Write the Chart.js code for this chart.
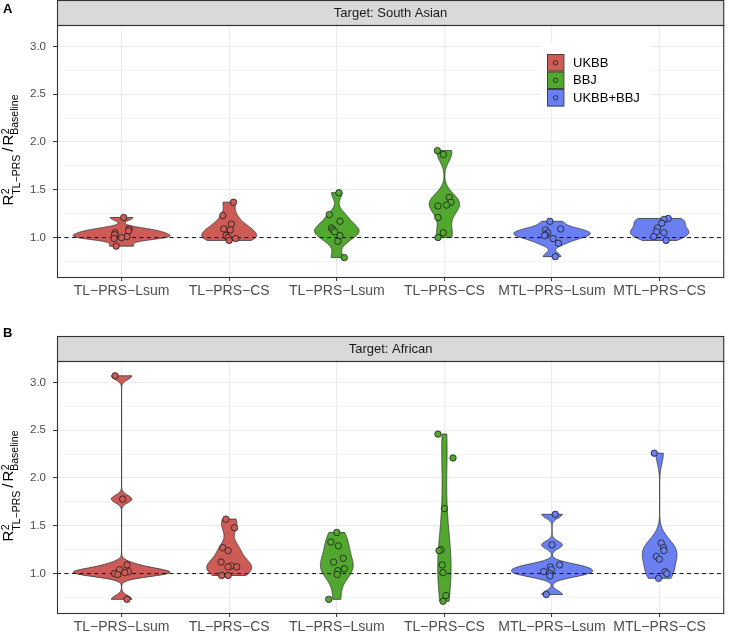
<!DOCTYPE html>
<html>
<head>
<meta charset="utf-8">
<script src="https://cdn.jsdelivr.net/npm/chart.js@4.4.1/dist/chart.umd.min.js"></script>
<style>
  html, body { margin: 0; padding: 0; background: #fff; }
  .panel { position: relative; width: 729px; }
  #panelA { height: 310px; }
  #panelB { height: 322px; }
</style>
</head>
<body>
<div class="panel" id="panelA"><canvas id="chartA"></canvas></div>
<div class="panel" id="panelB"><canvas id="chartB"></canvas></div>
<script>
// categories on the x axis and the training source of each one
const methods = ['TL\u2212PRS\u2212Lsum', 'TL\u2212PRS\u2212CS', 'TL\u2212PRS\u2212Lsum', 'TL\u2212PRS\u2212CS', 'MTL\u2212PRS\u2212Lsum', 'MTL\u2212PRS\u2212CS'];
const groupSource = [0, 0, 1, 1, 2, 2];
const sources = ['UKBB', 'BBJ', 'UKBB+BBJ'];
const panelTitles = ['Target: South Asian', 'Target: African'];
const panelLetters = ['A', 'B'];
const yGrid = [0.75, 1, 1.25, 1.5, 1.75, 2, 2.25, 2.5, 2.75, 3];
const yMin = 0.587, yMax = 3.225;

// R2 ratio per trait, one list per method
const southAsianRatio = [
  [1.21, 1.09, 1.07, 1.05, 1.03, 1.01, 1.00, 0.99, 0.91],
  [1.37, 1.23, 1.14, 1.09, 1.08, 1.02, 1.00, 0.99, 0.97],
  [1.47, 1.24, 1.17, 1.10, 1.08, 1.06, 1.02, 0.96, 0.79],
  [1.91, 1.87, 1.42, 1.37, 1.34, 1.33, 1.21, 1.05, 1.00],
  [1.17, 1.09, 1.08, 1.05, 1.03, 1.02, 0.99, 0.94, 0.80],
  [1.20, 1.19, 1.15, 1.10, 1.06, 1.05, 1.01, 0.97]
];
const southAsianJitter = [
  [0.02, 0.07, 0.065, -0.06, -0.065, 0.05, 0.0, -0.07, -0.05],
  [0.04, -0.06, 0.02, -0.05, 0.01, -0.03, -0.01, 0.06, 0.0],
  [0.02, -0.07, 0.03, -0.05, -0.035, -0.02, 0.03, 0.01, 0.07],
  [-0.065, -0.01, 0.045, 0.06, 0.02, -0.06, -0.06, -0.01, -0.06],
  [-0.02, 0.08, -0.06, -0.04, -0.06, -0.07, 0.01, 0.06, 0.03],
  [0.08, 0.04, 0.02, -0.02, -0.03, 0.04, -0.055, 0.06]
];
const africanRatio = [
  [3.07, 1.78, 1.09, 1.04, 1.02, 1.01, 1.00, 0.99, 0.73],
  [1.57, 1.48, 1.27, 1.24, 1.12, 1.08, 1.07, 1.07, 0.98, 0.98],
  [1.43, 1.33, 1.29, 1.16, 1.12, 1.05, 1.03, 0.99, 0.73],
  [2.46, 2.21, 1.68, 1.25, 1.24, 1.09, 1.01, 0.77, 0.71],
  [1.62, 1.30, 1.09, 1.07, 1.04, 1.02, 1.00, 0.975, 0.78],
  [2.26, 1.32, 1.27, 1.24, 1.18, 1.15, 1.02, 1.00, 0.95]
];
const africanJitter = [
  [-0.06, 0.01, 0.05, -0.02, 0.065, 0.03, -0.065, -0.035, 0.05],
  [-0.03, 0.05, -0.06, -0.01, -0.075, 0.02, -0.01, 0.07, -0.07, -0.01],
  [0.0, -0.055, 0.015, 0.06, -0.03, 0.07, 0.01, 0.003, -0.075],
  [-0.06, 0.08, 0.0, -0.03, -0.05, -0.02, -0.013, 0.015, -0.013],
  [0.03, 0.0, 0.07, -0.015, -0.005, -0.077, -0.02, -0.02, -0.053],
  [-0.05, 0.015, 0.037, 0.04, -0.03, -0.003, 0.05, 0.067, -0.01]
];

const colors = ['#CD5C57', '#52A82F', '#6A80F2'];
const FONT = '"Liberation Sans", Arial, sans-serif';

// bw.nrd0 like R
function bwNrd0(x) {
  var n = x.length;
  var mean = x.reduce(function (a, b) { return a + b; }, 0) / n;
  var sd = Math.sqrt(x.reduce(function (a, b) { return a + (b - mean) * (b - mean); }, 0) / (n - 1));
  var s = x.slice().sort(function (a, b) { return a - b; });
  function q(p) {
    var h = (n - 1) * p, lo = Math.floor(h);
    var hi = Math.min(lo + 1, n - 1);
    return s[lo] + (h - lo) * (s[hi] - s[lo]);
  }
  var lo = Math.min(sd, (q(0.75) - q(0.25)) / 1.34);
  if (!lo) lo = sd || Math.abs(s[0]) || 1;
  return 0.9 * lo * Math.pow(n, -0.2);
}

function density(x) {
  var bw = bwNrd0(x);
  var lo = Math.min.apply(null, x), hi = Math.max.apply(null, x);
  var out = [];
  for (var k = 0; k <= 256; k++) {
    var y = lo + (hi - lo) * k / 256;
    var d = 0;
    for (var j = 0; j < x.length; j++) {
      var z = (y - x[j]) / bw;
      d += Math.exp(-0.5 * z * z);
    }
    out.push({ y: y, d: d / (x.length * bw * Math.sqrt(2 * Math.PI)) });
  }
  return out;
}

const violinPlugin = {
  id: 'violins',
  beforeDatasetsDraw(chart, args, opts) {
    var ctx = chart.ctx, xs = chart.scales.x, ys = chart.scales.y, a = chart.chartArea;
    var dens = opts.groups.map(density);
    var maxD = 0;
    dens.forEach(function (g) { g.forEach(function (p) { if (p.d > maxD) maxD = p.d; }); });
    ctx.save();
    ctx.beginPath();
    ctx.rect(a.left, a.top, a.right - a.left, a.bottom - a.top);
    ctx.clip();
    dens.forEach(function (g, i) {
      ctx.beginPath();
      g.forEach(function (p, k) {
        var px = xs.getPixelForValue(i + 0.45 * p.d / maxD), py = ys.getPixelForValue(p.y);
        if (k === 0) ctx.moveTo(px, py); else ctx.lineTo(px, py);
      });
      for (var k = g.length - 1; k >= 0; k--) {
        ctx.lineTo(xs.getPixelForValue(i - 0.45 * g[k].d / maxD), ys.getPixelForValue(g[k].y));
      }
      ctx.closePath();
      ctx.fillStyle = colors[groupSource[i]];
      ctx.fill();
      ctx.lineWidth = 0.8;
      ctx.strokeStyle = '#333';
      ctx.stroke();
    });
    ctx.restore();
  }
};

function drawYTitle(ctx, area) {
  var big = '15px ' + FONT, small = '10.5px ' + FONT;
  var pieces = [
    { t: 'R', f: big },
    { sup: '2', sub: 'TL\u2212PRS', subDy: 6.5 },
    { gap: 3 },
    { t: '/', f: big },
    { gap: 2 },
    { t: 'R', f: big },
    { sup: '2', sub: 'Baseline', subDy: 4.5 }
  ];
  function width(p) {
    if (p.gap) return p.gap;
    if (p.t) { ctx.font = p.f; return ctx.measureText(p.t).width; }
    ctx.font = small;
    return Math.max(ctx.measureText(p.sup).width, ctx.measureText(p.sub).width);
  }
  ctx.save();
  var total = 0;
  pieces.forEach(function (p) { total += width(p); });
  ctx.translate(13, (area.top + area.bottom) / 2 - 1);
  ctx.rotate(-Math.PI / 2);
  ctx.fillStyle = '#000';
  ctx.textBaseline = 'alphabetic';
  ctx.textAlign = 'left';
  var x = -total / 2;
  pieces.forEach(function (p) {
    var w = width(p);
    if (p.t) { ctx.font = p.f; ctx.fillText(p.t, x, 0); }
    else if (p.sup) {
      ctx.font = small;
      ctx.fillText(p.sup, x + 0.5, -4);
      ctx.fillText(p.sub, x, p.subDy);
    }
    x += w;
  });
  ctx.restore();
}

const framePlugin = {
  id: 'frame',
  afterDraw(chart, args, opts) {
    var ctx = chart.ctx, a = chart.chartArea;
    ctx.save();
    // strip
    var stripTop = a.top - 25;
    ctx.fillStyle = '#D9D9D9';
    ctx.fillRect(a.left, stripTop, a.right - a.left, 25);
    ctx.strokeStyle = '#333';
    ctx.lineWidth = 1.1;
    ctx.strokeRect(a.left + 0.5, stripTop + 0.5, a.right - a.left - 1, 25);
    ctx.fillStyle = '#1A1A1A';
    ctx.font = '13px ' + FONT;
    ctx.textAlign = 'center';
    ctx.textBaseline = 'middle';
    ctx.fillText(opts.title, (a.left + a.right) / 2, stripTop + 13);
    // panel border
    ctx.strokeRect(a.left + 0.5, a.top + 0.5, a.right - a.left - 1, a.bottom - a.top);
    // panel letter
    ctx.fillStyle = '#000';
    ctx.font = 'bold 13px ' + FONT;
    ctx.textAlign = 'left';
    ctx.textBaseline = 'alphabetic';
    ctx.fillText(opts.letter, 3, opts.letterY);
    drawYTitle(ctx, a);
    if (opts.legend) {
      ctx.fillStyle = '#fff';
      ctx.fillRect(540, 43, 110, 67);
      sources.forEach(function (s, k) {
        var top = 54 + k * 17.5;
        ctx.fillStyle = colors[k];
        ctx.fillRect(547, top, 17, 17.5);
        ctx.strokeStyle = '#333';
        ctx.lineWidth = 0.8;
        ctx.strokeRect(547.5, top + 0.5, 16.5, 16.5);
        ctx.beginPath();
        ctx.arc(555.5, top + 8.75, 2.2, 0, Math.PI * 2);
        ctx.strokeStyle = '#111';
        ctx.lineWidth = 0.7;
        ctx.stroke();
        ctx.fillStyle = '#000';
        ctx.font = '13px ' + FONT;
        ctx.textAlign = 'left';
        ctx.textBaseline = 'middle';
        ctx.fillText(s, 573, top + 9);
      });
    }
    ctx.restore();
  }
};

function isMajor(v) { return Math.abs(v * 2 - Math.round(v * 2)) < 1e-9; }

function makePanel(id, ratios, jitter, k, topPad, xHeight) {
  var datasets = [{
    type: 'line',
    data: [{ x: -0.6, y: 1 }, { x: 5.6, y: 1 }],
    borderColor: '#111',
    borderWidth: 1,
    borderDash: [4, 3.5],
    pointRadius: 0,
    order: 1
  }];
  ratios.forEach(function (vals, i) {
    datasets.push({
      type: 'scatter',
      data: vals.map(function (v, j) { return { x: i + jitter[i][j], y: v }; }),
      backgroundColor: colors[groupSource[i]],
      borderColor: '#1A1A1A',
      borderWidth: 0.8,
      pointRadius: 3.2,
      order: 0
    });
  });
  return new Chart(document.getElementById(id), {
    type: 'scatter',
    data: { datasets: datasets },
    plugins: [violinPlugin, framePlugin],
    options: {
      responsive: true,
      maintainAspectRatio: false,
      animation: false,
      devicePixelRatio: 1,
      layout: { padding: { top: topPad, right: 1, left: 0, bottom: 0 } },
      plugins: {
        legend: { display: false },
        tooltip: { enabled: false },
        violins: { groups: ratios },
        frame: { title: panelTitles[k], letter: panelLetters[k], letterY: k === 0 ? 13 : 27, legend: k === 0 }
      },
      scales: {
        x: {
          type: 'linear',
          min: -0.6,
          max: 5.6,
          afterBuildTicks: function (s) { s.ticks = methods.map(function (m, i) { return { value: i }; }); },
          afterFit: function (s) { s.height = xHeight; },
          ticks: {
            autoSkip: false,
            maxRotation: 0,
            padding: 2,
            color: '#4D4D4D',
            font: { family: FONT, size: 14 },
            callback: function (v) { return methods[v]; }
          },
          grid: { color: '#EBEBEB', lineWidth: 1.1, tickColor: '#333', tickLength: 4, tickWidth: 1 },
          border: { display: false }
        },
        y: {
          min: yMin,
          max: yMax,
          afterBuildTicks: function (s) { s.ticks = yGrid.map(function (v) { return { value: v }; }); },
          afterFit: function (s) { s.width = 57; },
          ticks: {
            autoSkip: false,
            padding: 7,
            color: '#4D4D4D',
            font: { family: FONT, size: 11.5 },
            callback: function (v) { return isMajor(v) ? v.toFixed(1) : ''; }
          },
          grid: {
            color: '#EBEBEB',
            lineWidth: function (c) { return c.tick && isMajor(c.tick.value) ? 1.1 : 0.55; },
            tickColor: function (c) { return c.tick && isMajor(c.tick.value) ? '#333' : 'rgba(0,0,0,0)'; },
            tickLength: 4,
            tickWidth: 1
          },
          border: { display: false }
        }
      }
    }
  });
}

makePanel('chartA', southAsianRatio, southAsianJitter, 0, 25, 33);
makePanel('chartB', africanRatio, africanJitter, 1, 51, 19);
</script>
</body>
</html>
